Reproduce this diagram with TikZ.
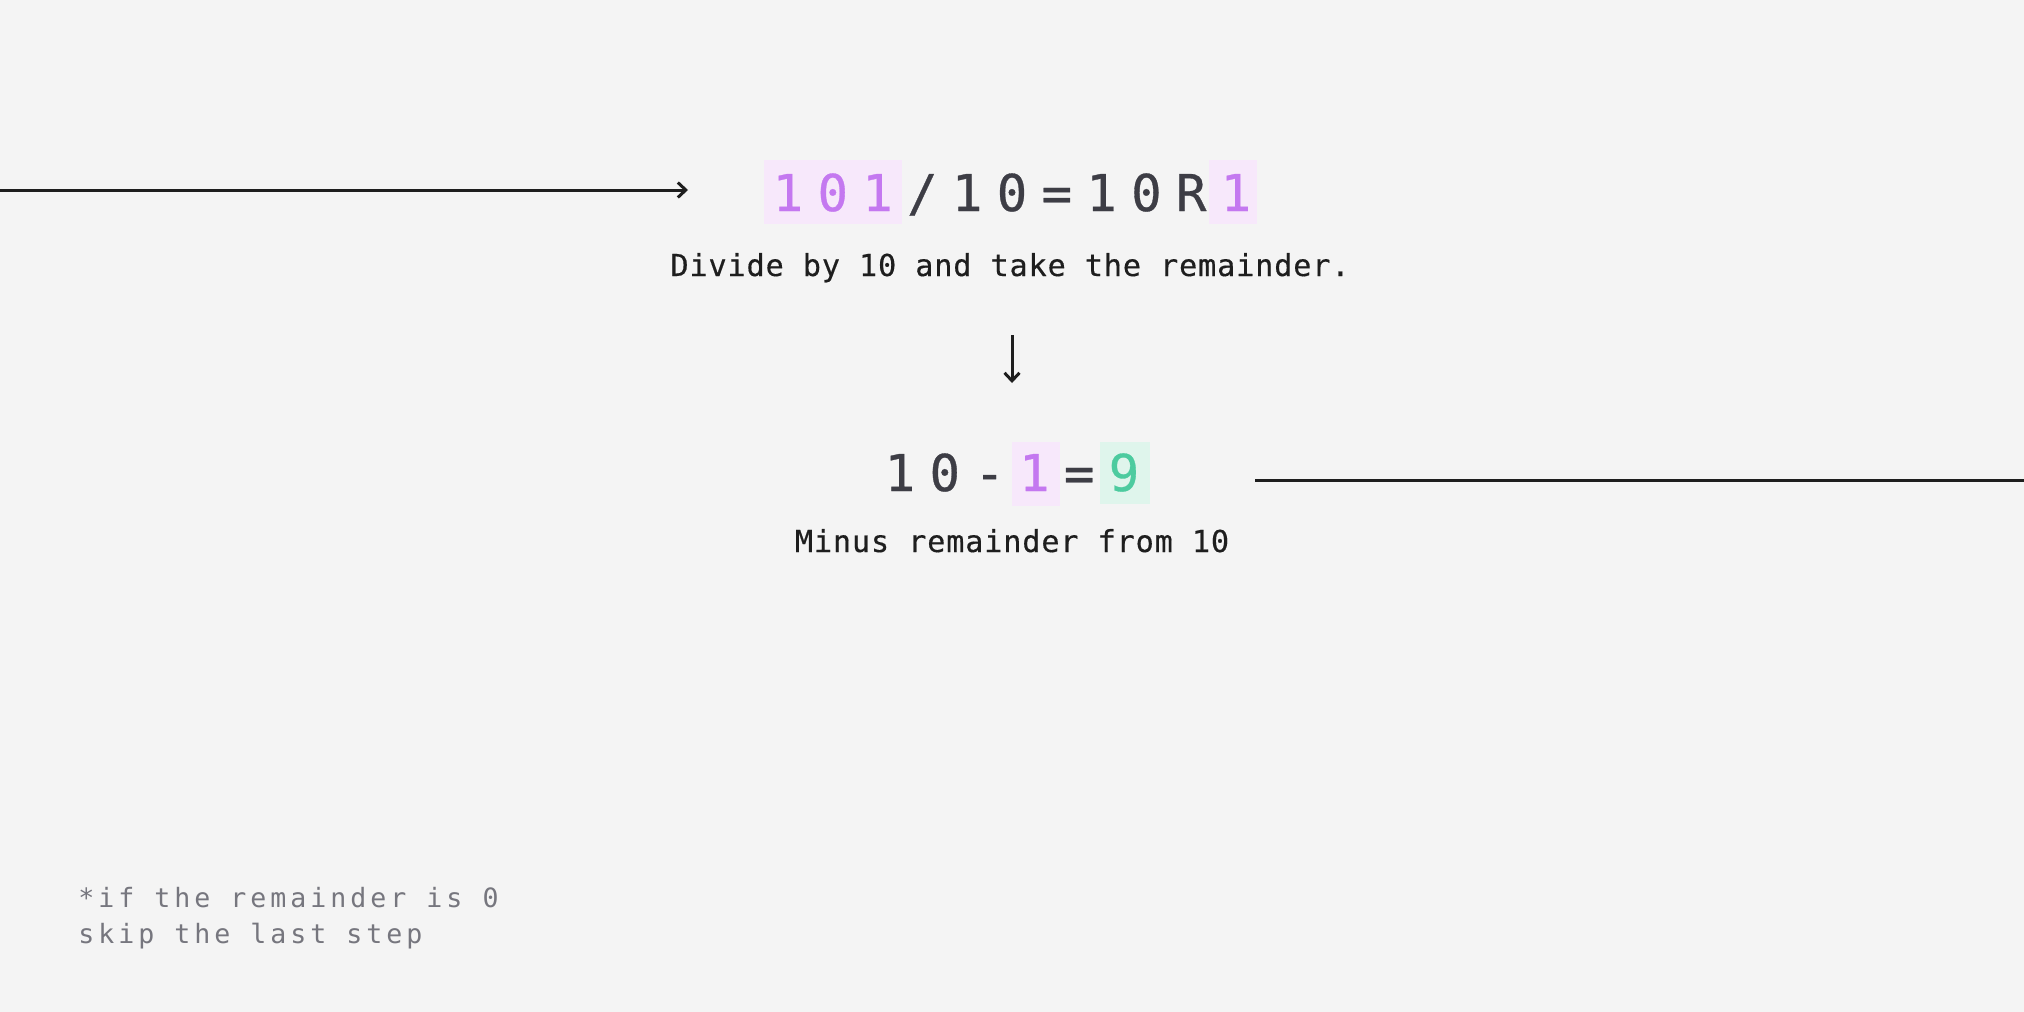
\documentclass[tikz,border=0pt]{standalone}
\usepackage{fontspec}
\usetikzlibrary{arrows.meta}
\newfontfamily\eqfont[FakeBold=0.6]{DejaVu Sans Mono}
\newfontfamily\capfont[LetterSpace=2.8,FakeBold=0.4]{DejaVu Sans Mono}
\newfontfamily\notefont[LetterSpace=15]{DejaVu Sans Mono}
\definecolor{bg}{HTML}{F4F4F4}
\definecolor{digdark}{HTML}{3D3D45}
\definecolor{purptext}{HTML}{C478F0}
\definecolor{purpbg}{HTML}{F7E8FB}
\definecolor{grntext}{HTML}{4CCB9F}
\definecolor{grnbg}{HTML}{DFF5EC}
\definecolor{captext}{HTML}{1E1E1E}
\definecolor{notetext}{HTML}{76767E}
\definecolor{linecol}{HTML}{1E1E1E}
\begin{document}
\begin{tikzpicture}[x=0.5pt,y=-0.5pt,
  dig/.style={font=\eqfont\fontsize{25.35}{30}\selectfont, anchor=base, inner sep=0pt, text=digdark},
  purp/.style={dig, text=purptext},
  grn/.style={dig, text=grntext},
  hlbox/.style={draw=none, inner sep=0pt, minimum height=32pt},
  captxt/.style={font=\capfont\fontsize{15.1}{18}\selectfont, text=captext, anchor=base, inner sep=0pt},
  notetxt/.style={font=\notefont\fontsize{13.3}{17.5}\selectfont, text=notetext, anchor=base west, inner sep=0pt},
  conn/.style={line width=1.5pt, draw=linecol},
  tipped/.style={conn, -{Straight Barb[length=4pt,width=7.5pt]}}
]
\fill[bg] (0,0) rectangle (2024,1012);
\useasboundingbox (0,0) rectangle (2024,1012);

% highlight boxes
\node[hlbox, fill=purpbg, minimum width=69pt] (hbA) at (833,192) {};
\node[hlbox, fill=purpbg, minimum width=24pt] (hbB) at (1233,192) {};
\node[hlbox, fill=purpbg, minimum width=24pt] (hbC) at (1036,474) {};
\node[hlbox, fill=grnbg, minimum width=25pt, minimum height=31pt] (hbD) at (1125,473) {};

% top equation
\node[purp] (t1) at (788,211) {1};
\node[purp] (t2) at (832.8,211) {0};
\node[purp] (t3) at (877.6,211) {1};
\node[dig] (t4) at (922.4,211) {/};
\node[dig] (t5) at (967.2,211) {1};
\node[dig] (t6) at (1012,211) {0};
\node[dig] (t7) at (1056.8,211) {=};
\node[dig] (t8) at (1101.6,211) {1};
\node[dig] (t9) at (1146.4,211) {0};
\node[dig] (t10) at (1191.2,211) {R};
\node[purp] (t11) at (1236,211) {1};

\node[captxt] (cap1) at (1010,276) {Divide by 10 and take the remainder.};

% second equation
\node[dig] (b1) at (900,491) {1};
\node[dig] (b2) at (944.8,491) {0};
\node[dig] (b3) at (989.6,491) {-};
\node[purp] (b4) at (1034.4,491) {1};
\node[dig] (b5) at (1079.2,491) {=};
\node[grn] (b6) at (1124,491) {9};

\node[captxt] (cap2) at (1012,552) {Minus remainder from 10};

% footnote
\node[notetxt] (fn1) at (78,907) {*if the remainder is 0};
\node[notetxt] (fn2) at (78,943) {skip the last step};

% connectors
\coordinate (inL) at (0,190);
\coordinate (inR) at (688,190);
\coordinate (dnT) at (1012,335);
\coordinate (dnB) at (1012,383);
\coordinate (outL) at (1255,480);
\coordinate (outR) at (2024,480);
\draw[tipped] (inL) -- (inR);
\draw[tipped] (dnT) -- (dnB);
\draw[conn] (outL) -- (outR);
\end{tikzpicture}
\end{document}
